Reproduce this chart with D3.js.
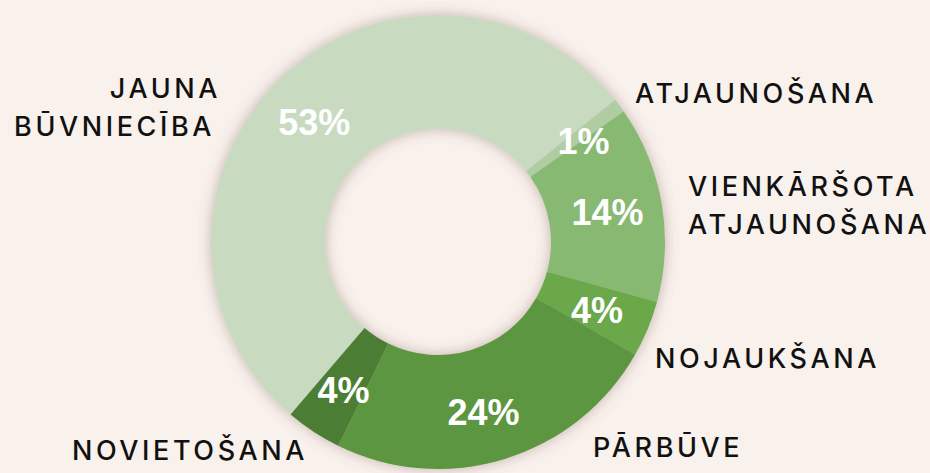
<!DOCTYPE html>
<html>
<head>
<meta charset="utf-8">
<script src="https://cdn.jsdelivr.net/npm/d3@7"></script>
<style>
  html, body { margin: 0; padding: 0; background: #f9f1ec; }
  svg { display: block; }
</style>
</head>
<body>
<svg id="chart" width="930" height="473"></svg>
<script>
// ---- data ----
const categories = ["JAUNA BŪVNIECĪBA", "ATJAUNOŠANA", "VIENKĀRŠOTA ATJAUNOŠANA", "NOJAUKŠANA", "PĀRBŪVE", "NOVIETOŠANA"];
const values = [53, 1, 14, 4, 24, 4];
const valueLabels = ["53%", "1%", "14%", "4%", "24%", "4%"];
const colors = ["#c8dbc0", "#b0cda2", "#87b972", "#6aa84a", "#5c963f", "#4b7d34"];

// ---- layout ----
const W = 930, H = 473;
const cx = 438, cy = 242, rOuter = 227, rInner = 113;
const startDeg = -139.5;
const nameLayout = [
  {anchor: "end", xs: [221, 215], y: 98},
  {anchor: "start", xs: [635], y: 103},
  {anchor: "start", xs: [688, 688], y: 196},
  {anchor: "start", xs: [655], y: 368},
  {anchor: "start", xs: [593], y: 457},
  {anchor: "start", xs: [72], y: 460}
];
const nameLines = [["JAUNA", "BŪVNIECĪBA"], null, ["VIENKĀRŠOTA", "ATJAUNOŠANA"], null, null, null];
const pctOffsets = [[-4, 4], [8, 2], [0, 0], [0, 2], [-5, 6], [0, 4]];

const svg = d3.select("#chart");
svg.append("rect").attr("width", W).attr("height", H).attr("fill", "#f9f1ec");

const defs = svg.append("defs");
const f = defs.append("filter").attr("id", "shadow")
  .attr("x", "-20%").attr("y", "-20%").attr("width", "140%").attr("height", "140%");
f.append("feDropShadow").attr("dx", 0).attr("dy", 0).attr("stdDeviation", 7)
  .attr("flood-color", "#7a5c55").attr("flood-opacity", 0.42);

const data = categories.map((c, i) => ({name: c, value: values[i], label: valueLabels[i], color: colors[i]}));

const pie = d3.pie().value(d => d.value).sort(null)
  .startAngle(startDeg * Math.PI / 180)
  .endAngle((startDeg + 360) * Math.PI / 180);
const arcs = pie(data);
const arc = d3.arc().innerRadius(rInner).outerRadius(rOuter);
const labelArc = d3.arc().innerRadius(172).outerRadius(172);

const g = svg.append("g").attr("transform", `translate(${cx},${cy})`);
const ring = g.append("g").attr("filter", "url(#shadow)");
ring.selectAll("path").data(arcs).join("path")
  .attr("d", arc).attr("fill", d => d.data.color);

g.selectAll("text.pct").data(arcs).join("text")
  .attr("class", "pct")
  .attr("transform", (d, i) => {
    const c = labelArc.centroid(d);
    return `translate(${c[0] + pctOffsets[i][0]},${c[1] + pctOffsets[i][1]})`;
  })
  .attr("text-anchor", "middle")
  .attr("dy", "0.36em")
  .attr("fill", "#ffffff")
  .attr("font-family", "'Liberation Sans', Arial, sans-serif")
  .attr("font-weight", "bold")
  .attr("font-size", 36)
  .text(d => d.data.label);

// name labels
const nameFont = "Inter, Lato, sans-serif";
data.forEach((d, i) => {
  const L = nameLayout[i];
  const lines = nameLines[i] || [d.name];
  lines.forEach((ln, j) => {
    svg.append("text")
      .attr("x", L.xs[j])
      .attr("y", L.y + j * 38)
      .attr("text-anchor", L.anchor)
      .attr("font-family", nameFont)
      .attr("font-weight", 500)
      .attr("font-size", 27)
      .attr("letter-spacing", "3.6px")
      .attr("fill", "#111111")
      .text(ln);
  });
});
</script>
</body>
</html>
